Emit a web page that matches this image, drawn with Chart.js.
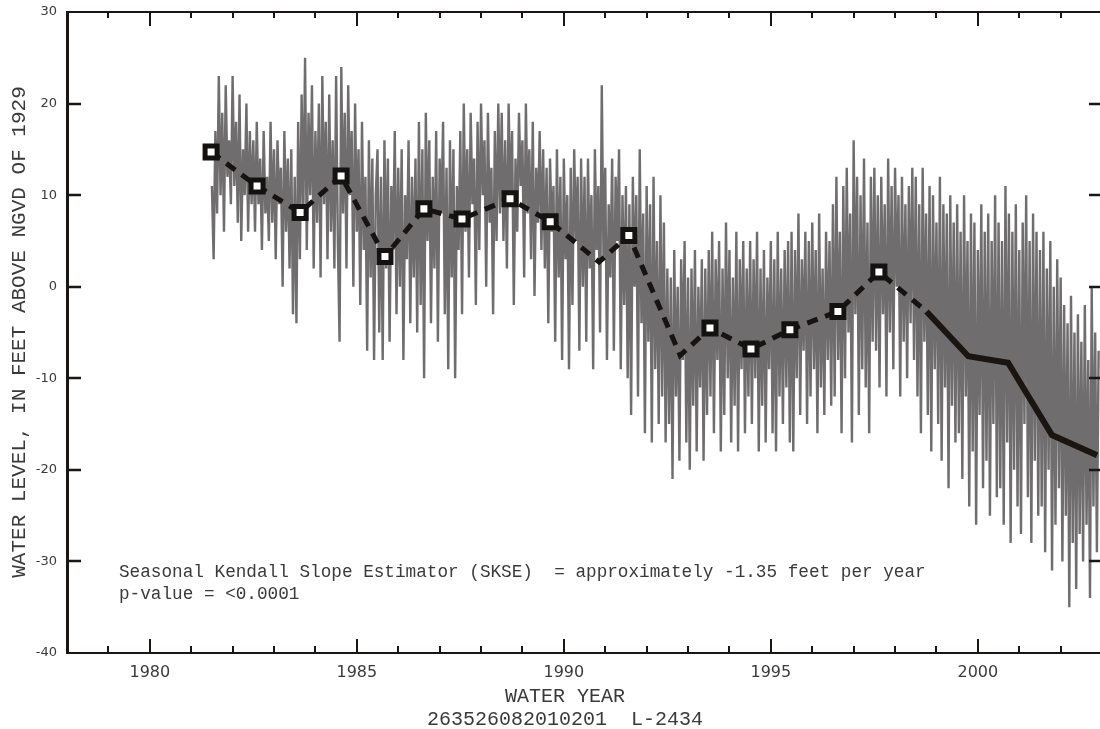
<!DOCTYPE html>
<html>
<head>
<meta charset="utf-8">
<title>L-2434</title>
<script src="https://cdn.jsdelivr.net/npm/chart.js@4.4.1/dist/chart.umd.min.js"></script>
<style>
    html, body { margin: 0; padding: 0; background: #fff; }
    canvas { display: block; }
</style>
</head>
<body>
<canvas id="graficoNivel" width="1100" height="729"></canvas>
<script>
// ===================================== Serie de niveles (quincenal) ==================
var inicioSerie = 1981.5;
var muestrasPorAnio = 24;

var nivelesQuincenales = [
    11, 3, 17, 8, 23, 10, 19, 6, 22, 12, 16, 9, 23, 11, 18, 7, 21, 5, 15, 10, 20, 6, 17, 9,
    16, 6, 18, 9, 14, 4, 17, 8, 12, 5, 18, 7, 15, 3, 16, 9, 13, 0, 17, 6, 14, 2, 15, -3,
    12, -4, 18, 3, 21, 8, 25, 4, 19, 10, 22, 2, 17, 7, 20, 1, 23, 9, 18, 3, 21, 6, 16, 2,
    23, 5, -6, 24, 8, 19, 2, 22, 10, 17, 0, 20, 6, 15, -2, 18, 4, 12, -7, 16, 1, 14, -8, 10,
    15, -5, 12, -8, 16, 2, 14, -6, 11, 4, 17, -3, 13, 0, 15, -8, 10, 3, 16, -4, 12, 1, 14, -5,
    18, -2, 15, -10, 19, 5, 16, -4, 12, 2, 17, -6, 14, 8, 18, -3, 13, -9, 16, 1, 15, -10, 11, 4,
    17, -3, 20, 6, 15, 1, 19, 9, 14, -2, 18, 4, 20, 10, 16, 0, 19, 7, 13, -3, 17, 5, 20, 8,
    19, 5, 16, 2, 20, 9, 17, -2, 14, 6, 19, 11, 16, 1, 20, 8, 15, 3, 18, -1, 13, 7, 17, 4,
    15, 2, 13, -4, 14, 6, 11, -6, 15, 1, 12, -8, 14, 3, 10, -9, 13, -2, 15, 5, 12, -7, 14, 0,
    12, -6, 14, 2, 10, -9, 15, 4, 11, -5, 22, 3, 13, -8, 9, 1, 14, -7, 12, 5, 15, -9, 10, -2,
    11, -10, 9, -14, 12, 0, 10, -12, 15, -4, 8, -16, 11, -6, 9, -17, 12, -9, 5, -15, 10, -12, 7, -17,
    2, -15, 1, -21, 4, -12, 0, -19, 3, -8, 5, -17, 1, -20, 2, -13, 4, -18, 0, -11, 3, -19, 2, -14,
    4, -12, 6, -16, 3, -8, 5, -18, 2, -14, 7, -10, 4, -17, 1, -13, 6, -18, 3, -9, 5, -16, 2, -12,
    5, -15, 3, -10, 6, -18, 2, -13, 4, -17, 1, -9, 5, -16, 3, -18, 6, -12, 2, -15, 4, -11, 5, -17,
    6, -18, 4, -10, 8, -14, 3, -7, 6, -15, 5, -12, 7, -9, 4, -16, 8, -11, 2, -14, 6, -8, 5, -13,
    9, -12, 12, -8, 6, -16, 11, -10, 13, -5, 8, -17, 16, -3, 12, -14, 10, -9, 14, -11, 7, -16, 12, -6,
    13, -7, 10, -11, 12, -3, 9, -12, 14, -5, 11, -9, 13, 0, 10, -12, 12, -6, 9, -10, 11, -4, 13, -8,
    12, -12, 9, -16, 13, -6, 8, -14, 11, -18, 10, -9, 7, -15, 12, -19, 9, -11, 8, -22, 10, -13, 7, -17,
    9, -16, 6, -21, 10, -12, 5, -24, 8, -18, 7, -26, 4, -14, 9, -22, 6, -19, 8, -25, 5, -15, 10, -23,
    7, -22, 5, -26, 11, -17, 8, -28, 6, -20, 9, -24, 4, -27, 7, -15, 10, -23, 5, -28, 8, -19, 6, -25,
    4, -24, 6, -29, 2, -20, 5, -31, 0, -26, 3, -22, 1, -30, -2, -25, -4, -35, -1, -28, -5, -33, -3, -27,
    -6, -30, -2, -26, -8, -34, 0, -24, -5, -29, -7
];

// ===================================== Medianas anuales (tendencia) ==================
var aniosTendencia  = [1981.48, 1982.59, 1983.63, 1984.62, 1985.68, 1986.62, 1987.54, 1988.70, 1989.67,
                       1990.85, 1991.57, 1992.81, 1993.53, 1994.52, 1995.46, 1996.62, 1997.61, 1998.76];
var nivelesTendencia = [14.7, 11.0, 8.1, 12.1, 3.3, 8.5, 7.4, 9.6, 7.1,
                        2.7, 5.6, -7.5, -4.5, -6.8, -4.7, -2.7, 1.6, -2.7];
var conCuadro = [true, true, true, true, true, true, true, true, true,
                 false, true, false, true, true, true, true, true, false];

var aniosRecientes   = [1998.76, 1999.77, 2000.73, 2001.79, 2002.88];
var nivelesRecientes = [-2.7, -7.6, -8.3, -16.2, -18.4];

// ===================================== Ejes y textos ==================
var aniosEtiquetados = [1980, 1985, 1990, 1995, 2000];
var valoresY = [-40, -30, -20, -10, 0, 10, 20, 30];

var tituloX = "WATER YEAR";
var subtituloX = "263526082010201  L-2434";
var tituloY = "WATER LEVEL, IN FEET ABOVE NGVD OF 1929";
var notaSkse = "Seasonal Kendall Slope Estimator (SKSE)  = approximately -1.35 feet per year";
var notaP = "p-value = <0.0001";

var colorEje = "#1b1613";
var colorTexto = "#3a3a3a";
var fuenteMono = "'Liberation Mono', 'Courier New', monospace";


// ===================================== Arma puntos {x, y} ==================
var puntosNivel = nivelesQuincenales.map((v, i) => ({ x: inicioSerie + i / muestrasPorAnio, y: v }));
var puntosTendencia = aniosTendencia.map((a, i) => ({ x: a, y: nivelesTendencia[i] }));
var puntosRecientes = aniosRecientes.map((a, i) => ({ x: a, y: nivelesRecientes[i] }));


// ===================================== Marcas hacia adentro, marco y rótulos ==================
var marcoYTextos = {
    id: 'marcoYTextos',
    afterDraw(chart) {
        const ctx = chart.ctx;
        const area = chart.chartArea;
        const sx = chart.scales.x;
        const sy = chart.scales.y;

        ctx.save();
        ctx.strokeStyle = colorEje;
        ctx.lineWidth = 2;

        // borde superior
        ctx.beginPath();
        ctx.moveTo(area.left, area.top);
        ctx.lineTo(area.right, area.top);
        ctx.stroke();

        // marcas anuales arriba y abajo
        sx.ticks.forEach(t => {
            const px = Math.round(sx.getPixelForValue(t.value));
            const mayor = aniosEtiquetados.includes(t.value);
            ctx.beginPath();
            ctx.moveTo(px, area.bottom);
            ctx.lineTo(px, area.bottom - (mayor ? 14 : 7));
            ctx.moveTo(px, area.top);
            ctx.lineTo(px, area.top + (mayor ? 14 : 6));
            ctx.stroke();
        });

        // marcas del eje Y (izquierda y derecha)
        ctx.lineWidth = 2.5;
        sy.ticks.forEach(t => {
            if (t.value === sy.min || t.value === sy.max) return;
            const py = Math.round(sy.getPixelForValue(t.value));
            ctx.beginPath();
            ctx.moveTo(area.left, py);
            ctx.lineTo(area.left + 14, py);
            ctx.moveTo(area.right, py);
            ctx.lineTo(area.right - 11, py);
            ctx.stroke();
        });

        // títulos de ejes
        ctx.fillStyle = colorTexto;
        ctx.font = "20px " + fuenteMono;
        ctx.textAlign = "center";
        ctx.textBaseline = "alphabetic";
        ctx.fillText(tituloX, 565, 702);
        ctx.fillText(subtituloX, 565, 725);

        ctx.save();
        ctx.font = "21px " + fuenteMono;
        ctx.translate(25, 332);
        ctx.rotate(-Math.PI / 2);
        ctx.fillText(tituloY, 0, 0);
        ctx.restore();

        // nota del estimador
        ctx.textAlign = "left";
        ctx.font = "17.7px " + fuenteMono;
        ctx.fillText(notaSkse, 119, 577);
        ctx.fillText(notaP, 119, 599);

        ctx.restore();
    }
};


// ===================================== Gráfico ==================
var chartNivel = new Chart(document.getElementById("graficoNivel"), {
    type: 'line',
    data: {
        datasets: [
            {
                label: 'Mediana anual',
                data: puntosTendencia,
                borderColor: "#171311",
                borderWidth: 5,
                borderDash: [11, 8],
                borderCapStyle: 'butt',
                tension: 0,
                pointStyle: 'rect',
                pointRadius: conCuadro.map(c => c ? 8.5 : 0),
                pointBorderWidth: 5,
                pointBorderColor: "#141210",
                pointBackgroundColor: "#ffffff",
                order: 1
            },
            {
                label: 'Tendencia reciente',
                data: puntosRecientes,
                borderColor: "#1b1512",
                borderWidth: 6,
                tension: 0,
                pointRadius: 0,
                order: 1
            },
            {
                label: 'Nivel',
                data: puntosNivel,
                borderColor: "#6f6d6e",
                borderWidth: 2.4,
                tension: 0,
                pointRadius: 0,
                order: 3
            }
        ]
    },
    options: {
        responsive: false,
        animation: false,
        events: [],
        layout: {
            autoPadding: false,
            padding: { top: 12, right: 0, left: 0, bottom: 0 }
        },
        plugins: {
            legend: { display: false },
            tooltip: { enabled: false }
        },
        scales: {
            x: {
                type: 'linear',
                min: 1978,
                max: 2002.95,
                grid: { display: false, drawTicks: false },
                border: { display: true, color: colorEje, width: 2 },
                ticks: {
                    stepSize: 1,
                    includeBounds: false,
                    autoSkip: false,
                    maxRotation: 0,
                    padding: 10,
                    color: colorTexto,
                    font: { family: "'DejaVu Sans', sans-serif", size: 16 },
                    callback: v => aniosEtiquetados.includes(v) ? String(v) : ''
                },
                afterFit: s => {
                    s.height = 76;
                    s.paddingLeft = 0;
                    s.paddingRight = 0;
                }
            },
            y: {
                min: -40,
                max: 30,
                grid: { display: false, drawTicks: false },
                border: { display: true, color: colorEje, width: 3 },
                afterBuildTicks: s => { s.ticks = valoresY.map(v => ({ value: v })); },
                ticks: {
                    padding: 10,
                    color: colorTexto,
                    font: { family: "'DejaVu Sans', sans-serif", size: 13 },
                    callback: v => String(v)
                },
                afterFit: s => {
                    s.width = 67;
                    s.paddingTop = 0;
                    s.paddingBottom = 0;
                }
            }
        }
    },
    plugins: [marcoYTextos]
});
</script>
</body>
</html>
